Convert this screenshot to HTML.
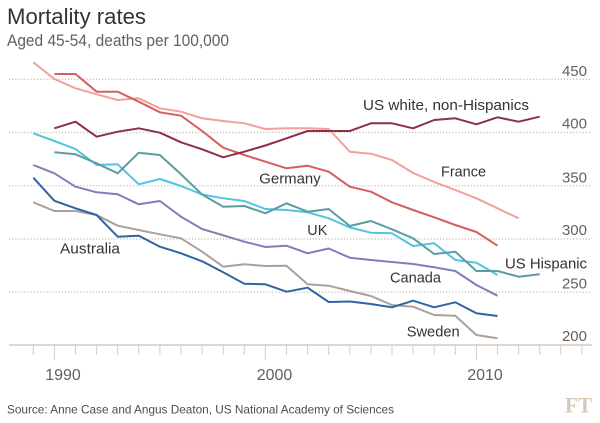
<!DOCTYPE html>
<html>
<head>
<meta charset="utf-8">
<style>
  html, body { margin: 0; padding: 0; background: #ffffff; }
  svg { display: block; }
  text { font-family: "Liberation Sans", "DejaVu Sans", sans-serif; }
</style>
</head>
<body>
<svg width="600" height="423" viewBox="0 0 600 423" xmlns="http://www.w3.org/2000/svg">
  <rect x="0" y="0" width="600" height="423" fill="#ffffff"/>

  <!-- Title -->
  <text x="7" y="24" font-size="22" fill="#333333" textLength="139" lengthAdjust="spacingAndGlyphs">Mortality rates</text>
  <text x="7" y="46" font-size="16.5" fill="#66605c" textLength="222" lengthAdjust="spacingAndGlyphs">Aged 45-54, deaths per 100,000</text>

  <!-- Gridlines -->
  <g stroke="#cfc5ba" stroke-width="1.4" stroke-dasharray="1.2 1.9">
    <line x1="9" y1="79.3" x2="592" y2="79.3"/>
    <line x1="9" y1="132.5" x2="592" y2="132.5"/>
    <line x1="9" y1="185.7" x2="592" y2="185.7"/>
    <line x1="9" y1="239" x2="592" y2="239"/>
    <line x1="9" y1="292.2" x2="592" y2="292.2"/>
  </g>

  <!-- Y labels -->
  <g font-size="15" fill="#66605c" text-anchor="end">
    <text x="587" y="76">450</text>
    <text x="587" y="128.7">400</text>
    <text x="587" y="182.5">350</text>
    <text x="587" y="235">300</text>
    <text x="587" y="288.3">250</text>
    <text x="587" y="341">200</text>
  </g>

  <!-- X axis -->
  <line x1="9" y1="345" x2="592" y2="345" stroke="#d5cbc0" stroke-width="1.5"/>
  <g stroke="#d5cbc0" stroke-width="1">
    <line x1="33.3" y1="345" x2="33.3" y2="355"/>
    <line x1="54.4" y1="345" x2="54.4" y2="360"/>
    <line x1="75.5" y1="345" x2="75.5" y2="355"/>
    <line x1="96.6" y1="345" x2="96.6" y2="355"/>
    <line x1="117.7" y1="345" x2="117.7" y2="355"/>
    <line x1="138.8" y1="345" x2="138.8" y2="355"/>
    <line x1="159.9" y1="345" x2="159.9" y2="355"/>
    <line x1="181" y1="345" x2="181" y2="355"/>
    <line x1="202.1" y1="345" x2="202.1" y2="355"/>
    <line x1="223.2" y1="345" x2="223.2" y2="355"/>
    <line x1="244.3" y1="345" x2="244.3" y2="355"/>
    <line x1="265.4" y1="345" x2="265.4" y2="360"/>
    <line x1="286.5" y1="345" x2="286.5" y2="355"/>
    <line x1="307.6" y1="345" x2="307.6" y2="355"/>
    <line x1="328.7" y1="345" x2="328.7" y2="355"/>
    <line x1="349.8" y1="345" x2="349.8" y2="355"/>
    <line x1="370.9" y1="345" x2="370.9" y2="355"/>
    <line x1="392" y1="345" x2="392" y2="355"/>
    <line x1="413.1" y1="345" x2="413.1" y2="355"/>
    <line x1="434.2" y1="345" x2="434.2" y2="355"/>
    <line x1="455.3" y1="345" x2="455.3" y2="355"/>
    <line x1="476.4" y1="345" x2="476.4" y2="360"/>
    <line x1="497.5" y1="345" x2="497.5" y2="355"/>
    <line x1="518.6" y1="345" x2="518.6" y2="355"/>
    <line x1="539.7" y1="345" x2="539.7" y2="355"/>
    <line x1="560.8" y1="345" x2="560.8" y2="355"/>
    <line x1="581.9" y1="345" x2="581.9" y2="355"/>
  </g>
  <g font-size="16" fill="#66605c" text-anchor="middle">
    <text x="63" y="380">1990</text>
    <text x="274.5" y="380">2000</text>
    <text x="485" y="380">2010</text>
  </g>

  <!-- Series -->
  <g fill="none" stroke-width="2" stroke-linejoin="round" stroke-linecap="butt">
    <!-- Sweden -->
    <polyline stroke="#aaa299" points="33.3,202.3 54.4,211 75.5,211 96.6,215 117.7,225.7 138.8,230 159.9,234.3 181,238.3 202.1,251.7 223.2,266.7 244.3,264.3 265.4,266 286.5,265.7 307.6,284.3 328.7,285.7 349.8,291 370.9,296 392,305 413.1,306.7 434.2,315 455.3,315.7 476.4,335 497.5,338.3"/>
    <!-- Australia -->
    <polyline stroke="#2f64a3" points="33.3,177.7 54.4,200.8 75.5,208.3 96.6,215 117.7,236.7 138.8,235.7 159.9,246.7 181,253.3 202.1,261.3 223.2,272.3 244.3,283.7 265.4,284.3 286.5,291.7 307.6,287.7 328.7,302 349.8,301.5 370.9,304 392,307.3 413.1,300.7 434.2,307.3 455.3,302.3 476.4,313.3 497.5,316"/>
    <!-- Canada -->
    <polyline stroke="#7b80b8" points="33.3,165 54.4,173.3 75.5,186.7 96.6,192.3 117.7,194.3 138.8,204.3 159.9,201 181,216.7 202.1,229 223.2,235.3 244.3,241.7 265.4,247 286.5,245.7 307.6,253.3 328.7,248.5 349.8,257.7 370.9,260 392,262 413.1,264 434.2,267.3 455.3,271 476.4,285 497.5,295.7"/>
    <!-- UK -->
    <polyline stroke="#4fc6de" points="33.3,133.3 54.4,141 75.5,149 96.6,165 117.7,164.3 138.8,184.3 159.9,179 181,186 202.1,194.5 223.2,198.3 244.3,201 265.4,209 286.5,210 307.6,212.3 328.7,218.3 349.8,227.5 370.9,232.7 392,233.3 413.1,246 434.2,243.3 455.3,260 476.4,262.7 497.5,275"/>
    <!-- US Hispanic -->
    <polyline stroke="#5a9da3" points="54.4,152.3 75.5,154.3 96.6,163.3 117.7,173.3 138.8,152.7 159.9,155 181,174.3 202.1,194.5 223.2,206.7 244.3,206 265.4,213.3 286.5,203.3 307.6,211.7 328.7,209 349.8,226 370.9,221 392,229.3 413.1,238.3 434.2,254 455.3,251.7 476.4,271 497.5,271 518.6,276.7 539.7,274.3"/>
    <!-- France -->
    <polyline stroke="#f2a09a" points="33.3,62.3 54.4,79 75.5,88.3 96.6,94.3 117.7,100 138.8,98.3 159.9,108.3 181,111.7 202.1,118.3 223.2,121 244.3,123.3 265.4,129 286.5,128.3 307.6,128.3 328.7,129 349.8,151.7 370.9,153.7 392,160 413.1,173 434.2,182 455.3,190 476.4,198.3 497.5,208.3 518.6,218.3"/>
    <!-- Germany -->
    <polyline stroke="#d55e5e" points="54.4,74 75.5,74 96.6,91.7 117.7,91.7 138.8,101.7 159.9,112.3 181,115.7 202.1,131 223.2,147.7 244.3,155 265.4,161.7 286.5,168.3 307.6,165.7 328.7,171.7 349.8,186.7 370.9,191.7 392,202.3 413.1,210 434.2,217.3 455.3,225 476.4,232 497.5,245.7"/>
    <!-- US white non-Hispanics -->
    <polyline stroke="#8e2e4f" points="54.4,128.3 75.5,121.7 96.6,136.7 117.7,131.7 138.8,128.3 159.9,132.7 181,142.3 202.1,149.3 223.2,157.3 244.3,151.7 265.4,145.5 286.5,138.3 307.6,131 328.7,131 349.8,131 370.9,123.3 392,123.3 413.1,128.3 434.2,120 455.3,118.3 476.4,124.3 497.5,117.3 518.6,121.7 539.7,116.7"/>
  </g>

  <!-- Series labels -->
  <g font-size="15" fill="#333333">
    <text x="363" y="110" textLength="166" lengthAdjust="spacingAndGlyphs">US white, non-Hispanics</text>
    <text x="441" y="176.7" textLength="45" lengthAdjust="spacingAndGlyphs">France</text>
    <text x="259.3" y="183.3" textLength="61.4" lengthAdjust="spacingAndGlyphs">Germany</text>
    <text x="307.3" y="235" textLength="20" lengthAdjust="spacingAndGlyphs">UK</text>
    <text x="60" y="253.3" textLength="60" lengthAdjust="spacingAndGlyphs">Australia</text>
    <text x="390" y="282.3" textLength="51" lengthAdjust="spacingAndGlyphs">Canada</text>
    <text x="505" y="268.3" textLength="82" lengthAdjust="spacingAndGlyphs">US Hispanic</text>
    <text x="406.7" y="336.7" textLength="53" lengthAdjust="spacingAndGlyphs">Sweden</text>
  </g>

  <!-- Source -->
  <text x="7" y="413.3" font-size="12" fill="#4d4d4d" textLength="387" lengthAdjust="spacingAndGlyphs">Source: Anne Case and Angus Deaton, US National Academy of Sciences</text>

  <!-- FT logo -->
  <text x="565" y="412.7" font-size="22" font-weight="bold" fill="#d8c7b6" style="font-family: 'Liberation Serif', serif;" textLength="27" lengthAdjust="spacingAndGlyphs">FT</text>
</svg>
</body>
</html>
